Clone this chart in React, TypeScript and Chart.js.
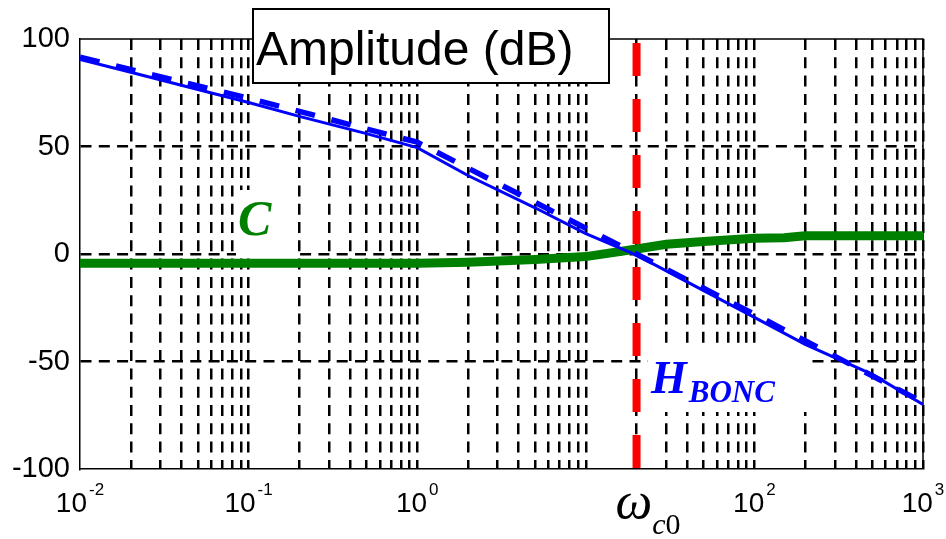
import React, { useEffect, useRef } from 'react';
import { Chart, registerables } from 'chart.js';

Chart.register(...registerables);

// ---- data ----
const hOmega = [0.01, 0.02, 0.05, 0.1, 0.2, 0.5, 1, 2, 5, 10, 20, 50, 100, 200, 500, 1000];
const hBoncDb = [90.5, 84.5, 76.5, 70.5, 64, 56, 49.5, 36.5, 21.5, 9.5, -0.5, -17, -29.5, -42, -56, -70];

const asymOmega = [0.01, 0.1, 1, 10, 100, 1000];
const asymDb = [91.5, 72.5, 52, 12, -28, -69];

const cOmega = [0.01, 1, 2, 5, 10, 20, 30, 50, 100, 150, 200, 1000];
const cDb = [-4.3, -4.3, -3.8, -2.6, -1.2, 2.3, 4.5, 5.8, 7.3, 7.6, 8.5, 8.5];

const omegaC0 = 20;

const yTicks = [-100, -50, 0, 50, 100];
// 10^1 carries no label in the reference (omega_c0 sits there instead)
const xMajor = [0.01, 0.1, 1, 100, 1000];
const xExponents = ['-2', '-1', '0', '2', '3'];
const gridDecades = [0.01, 0.1, 1, 10, 100];
const gridMultipliers = [2, 3, 4, 5, 6, 7, 8, 9, 10];
const xGrid = gridDecades.flatMap((d) => gridMultipliers.map((m) => Number((d * m).toPrecision(6))));

const titleText = 'Amplitude (dB)';
const cLabel = 'C';
const hLabel = 'H';
const hSub = 'BONC';

const SANS = '"Liberation Sans", Arial, sans-serif';
const SERIF = '"Liberation Serif", "Times New Roman", serif';

const overlay = {
  id: 'overlay',
  beforeDatasetsDraw(chart: any) {
    const { ctx, chartArea: a } = chart;
    ctx.save();
    // top and right frame
    ctx.strokeStyle = '#000';
    ctx.lineWidth = 1.5;
    ctx.setLineDash([]);
    ctx.beginPath();
    ctx.moveTo(a.left, a.top);
    ctx.lineTo(a.right, a.top);
    ctx.lineTo(a.right, a.bottom);
    ctx.stroke();

    // label backgrounds
    ctx.fillStyle = '#fff';
    ctx.fillRect(236, 190, 61, 68);
    ctx.fillRect(648, 345, 164, 67);

    // C label
    ctx.fillStyle = '#008000';
    ctx.textAlign = 'left';
    ctx.textBaseline = 'alphabetic';
    ctx.font = `italic bold 50px ${SERIF}`;
    ctx.fillText(cLabel, 238, 235);

    // H_BONC label
    ctx.fillStyle = '#0000ff';
    ctx.font = `italic bold 46px ${SERIF}`;
    ctx.fillText(hLabel, 651, 393);
    const hw = ctx.measureText(hLabel).width;
    ctx.font = `italic bold 31px ${SERIF}`;
    ctx.fillText(hSub, 651 + hw + 2, 402);
    ctx.restore();
  },
  afterDraw(chart: any) {
    const { ctx, chartArea: a, scales } = chart;
    const x = scales.x;
    ctx.save();
    ctx.fillStyle = '#000';
    ctx.textBaseline = 'alphabetic';
    ctx.textAlign = 'left';
    // x tick labels 10^n
    xMajor.forEach((v, i) => {
      const px = x.getPixelForValue(v);
      ctx.font = `28px ${SANS}`;
      const w1 = ctx.measureText('10').width;
      ctx.font = `17px ${SANS}`;
      const w2 = ctx.measureText(xExponents[i]).width;
      const start = px - (w1 + 2 + w2) / 2;
      ctx.font = `28px ${SANS}`;
      ctx.fillText('10', start, a.bottom + 43);
      ctx.font = `17px ${SANS}`;
      ctx.fillText(xExponents[i], start + w1 + 2, a.bottom + 26);
    });

    // omega_c0 label under the red line
    const pr = x.getPixelForValue(omegaC0);
    ctx.font = `italic 52px ${SERIF}`;
    ctx.fillText('ω', pr - 21, 518);
    const ww = ctx.measureText('ω').width;
    ctx.font = `italic 30px ${SERIF}`;
    ctx.fillText('c', pr - 21 + ww, 534);
    const cw = ctx.measureText('c').width;
    ctx.font = `30px ${SERIF}`;
    ctx.fillText('0', pr - 21 + ww + cw, 534);

    // title box
    ctx.fillStyle = '#fff';
    ctx.fillRect(253, 9, 356, 74);
    ctx.strokeStyle = '#000';
    ctx.lineWidth = 2;
    ctx.setLineDash([]);
    ctx.strokeRect(253, 9, 356, 74);
    ctx.fillStyle = '#000';
    ctx.font = `48px ${SANS}`;
    ctx.fillText(titleText, 256, 65);
    ctx.restore();
  },
};

export default function App() {
  const ref = useRef<HTMLCanvasElement>(null);
  useEffect(() => {
    const canvas = ref.current;
    if (!canvas) return;
    const toPts = (xs: number[], ys: number[]) => xs.map((v, i) => ({ x: v, y: ys[i] }));
    const chart = new Chart(canvas, {
      type: 'scatter',
      data: {
        datasets: [
          {
            label: 'omega_c0',
            data: [
              { x: omegaC0, y: 100 },
              { x: omegaC0, y: -100 },
            ],
            showLine: true,
            borderColor: '#ff0000',
            borderWidth: 8,
            borderDash: [33, 23],
            borderDashOffset: 52,
            borderCapStyle: 'butt',
            pointRadius: 0,
            order: 0,
          },
          {
            label: 'asymptote',
            data: toPts(asymOmega, asymDb),
            showLine: true,
            borderColor: '#0000ff',
            borderWidth: 5.5,
            borderDash: [20, 17],
            pointRadius: 0,
            order: 1,
          },
          {
            label: 'H_BONC',
            data: toPts(hOmega, hBoncDb),
            showLine: true,
            borderColor: '#0000ff',
            borderWidth: 3,
            pointRadius: 0,
            order: 2,
          },
          {
            label: 'C',
            data: toPts(cOmega, cDb),
            showLine: true,
            borderColor: '#008000',
            borderWidth: 9,
            pointRadius: 0,
            order: 3,
          },
        ],
      },
      options: {
        responsive: false,
        animation: false,
        layout: { padding: { top: 39, right: 23, left: 0, bottom: 0 } },
        plugins: { legend: { display: false }, tooltip: { enabled: false } },
        scales: {
          x: {
            type: 'logarithmic',
            min: 0.01,
            max: 1000,
            afterBuildTicks: (s: any) => {
              s.ticks = xGrid.map((v) => ({ value: v }));
            },
            afterFit: (s: any) => {
              s.height = 70;
            },
            ticks: { display: false },
            grid: { color: '#000', lineWidth: 2.5, drawTicks: false },
            border: { display: true, color: '#000', width: 1.5, dash: [11, 7.3] },
          },
          y: {
            min: -100,
            max: 100,
            afterBuildTicks: (s: any) => {
              s.ticks = yTicks.map((v) => ({ value: v }));
            },
            afterFit: (s: any) => {
              s.width = 80;
            },
            ticks: { color: '#000', font: { family: 'Liberation Sans', size: 29 }, padding: 10 },
            grid: {
              color: (c: any) => (c.tick && Math.abs(c.tick.value) === 100 ? 'rgba(0,0,0,0)' : '#000'),
              lineWidth: 2.5,
              drawTicks: false,
            },
            border: { display: true, color: '#000', width: 1.5, dash: [11, 7.3] },
          },
        },
      },
      plugins: [overlay],
    } as any);
    return () => chart.destroy();
  }, []);

  return (
    <div style={{ position: 'absolute', left: 0, top: 0, width: 946, height: 539, background: '#fff' }}>
      <canvas ref={ref} width={946} height={539} style={{ display: 'block' }} />
    </div>
  );
}
